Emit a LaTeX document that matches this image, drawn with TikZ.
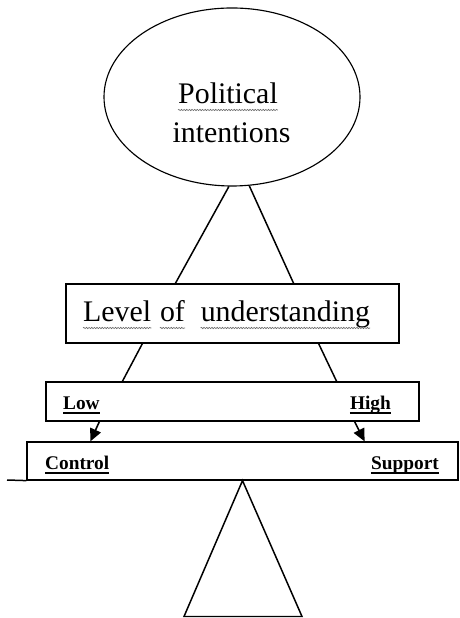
\documentclass[tikz,border=0pt]{standalone}
\usepackage{fontspec}
\setmainfont{Liberation Serif}
\usetikzlibrary{arrows.meta,shapes.geometric,decorations.pathmorphing}

\begin{document}
\begin{tikzpicture}[x=1cm,y=1cm]
\tikzset{
  bubble/.style={ellipse,draw,line width=1.3pt,inner sep=0pt},
  bar/.style={rectangle,draw,line width=1.4pt,inner sep=0pt},
  bigtext/.style={font=\fontsize{34}{51}\selectfont,inner sep=0pt},
  smalltext/.style={font=\fontsize{22}{26}\selectfont\bfseries,inner sep=0pt},
  link/.style={line width=1.7pt},
  pointer/.style={-{Triangle[length=5mm,width=4.6mm]},line width=1.8pt},
  underline/.style={line width=1.2pt},
  squiggle/.style={black!60,line width=0.7pt,decorate,decoration={snake,amplitude=0.7pt,segment length=3pt}}
}
\useasboundingbox (0,0) rectangle (18.40,24.72);
\node[bubble,minimum width=10.24cm,minimum height=7.12cm] (n_pol) at (9.28,20.84) {};
\node[bigtext,anchor=base] (t_pol) at (9.12,20.56) {Political};
\node[bigtext,anchor=base] (t_int) at (9.26,19.00) {intentions};
\node[bar,minimum width=13.32cm,minimum height=2.36cm] (n_level) at (9.30,12.18) {};
\node[bigtext,anchor=base west] (t_lvl) at (3.32,11.84) {Level};
\node[bigtext,anchor=base west] (t_of) at ([xshift=0.34cm]t_lvl.base east) {of};
\node[bigtext,anchor=base west] (t_und) at ([xshift=0.62cm]t_of.base east) {understanding};
\node[bar,minimum width=14.92cm,minimum height=1.56cm] (n_range) at (9.30,8.66) {};
\node[smalltext,anchor=base west] (t_low) at (2.52,8.32) {Low};
\node[smalltext,anchor=base east] (t_high) at (15.64,8.32) {High};
\node[bar,minimum width=17.24cm,minimum height=1.52cm] (n_beam) at (9.70,6.28) {};
\node[smalltext,anchor=base west] (t_control) at (1.80,5.92) {Control};
\node[smalltext,anchor=base east] (t_support) at (17.56,5.92) {Support};
\coordinate (c_ground) at (0.28,5.52);
% spelling squiggles and underlines
\foreach \w in {t_pol,t_lvl,t_of,t_und}
  \draw[squiggle] ([yshift=-0.24cm]\w.base west) -- ([yshift=-0.24cm]\w.base east);
\foreach \w in {t_low,t_high,t_control,t_support}
  \draw[underline] ([yshift=-0.12cm]\w.base west) -- ([yshift=-0.12cm]\w.base east);
\draw[link] (n_pol.268) -- ([xshift=4.40cm]n_level.north west);
\draw[link] (n_pol.281) -- ([xshift=-4.24cm]n_level.north east);
\draw[link] ([xshift=3.08cm]n_level.south west) -- ([xshift=3.08cm]n_range.north west);
\draw[link] ([xshift=-3.24cm]n_level.south east) -- ([xshift=-3.32cm]n_range.north east);
\draw[pointer] ([xshift=2.16cm]n_range.south west) -- ([xshift=2.56cm]n_beam.north west);
\draw[pointer] ([xshift=-2.60cm]n_range.south east) -- ([xshift=-3.76cm]n_beam.north east);
\draw[link] (c_ground) -- (n_beam.south west);
% fulcrum
\draw[link,line join=miter] (n_beam.south) -- (7.36,0.06) -- (12.08,0.06) -- cycle;
\end{tikzpicture}
\end{document}
